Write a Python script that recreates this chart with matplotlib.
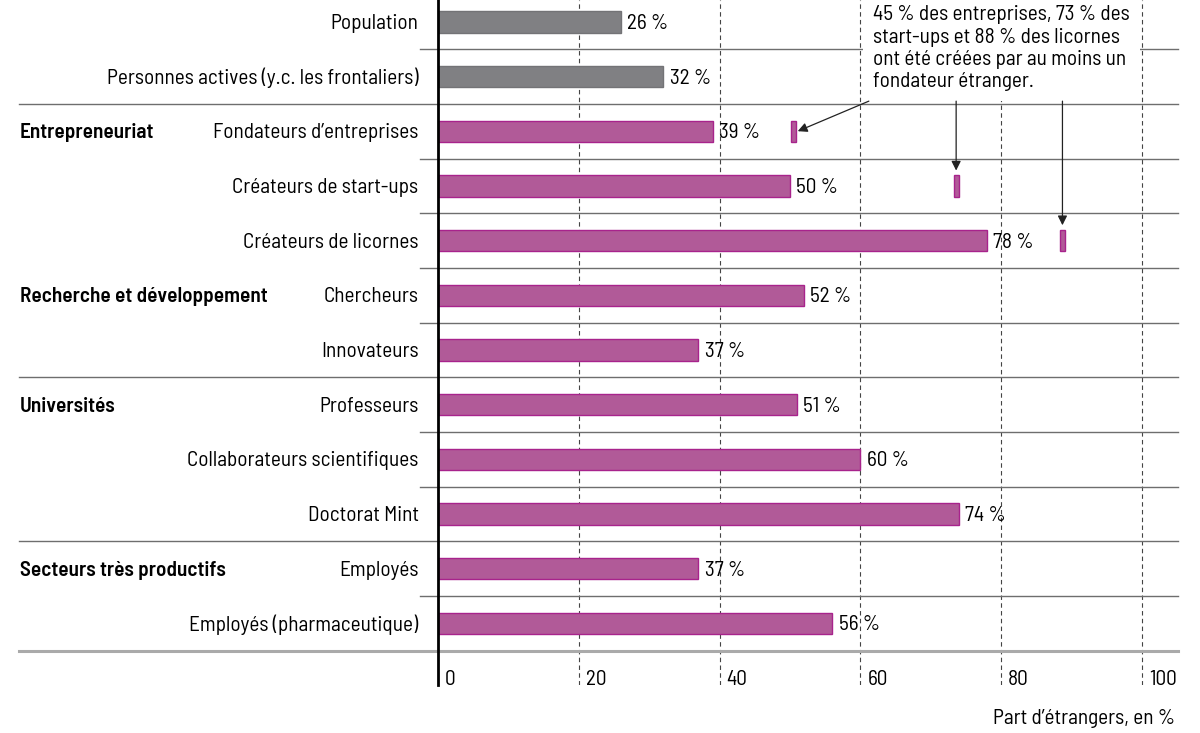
import matplotlib
matplotlib.use("Agg")
import matplotlib.pyplot as plt
from matplotlib.patches import Rectangle

# === DATA ===
categories = [
    "Population",
    "Personnes actives (y.c. les frontaliers)",
    "Fondateurs d’entreprises",
    "Créateurs de start-ups",
    "Créateurs de licornes",
    "Chercheurs",
    "Innovateurs",
    "Professeurs",
    "Collaborateurs scientifiques",
    "Doctorat Mint",
    "Employés",
    "Employés (pharmaceutique)",
]
values = [26, 32, 39, 50, 78, 52, 37, 51, 60, 74, 37, 56]
is_reference = [True, True] + [False] * 10

groups = ["Entrepreneuriat", "Recherche et développement", "Universités", "Secteurs très productifs"]
group_rows = [2, 5, 7, 10]

# share of firms with at least one foreign founder (small markers)
marker_rows = [2, 3, 4]
marker_pos = [50.5, 73.6, 88.7]

xticks = [0, 20, 40, 60, 80, 100]
TS = "\u2009"
note = (f"45{TS}% des entreprises, 73{TS}% des\n"
        f"start-ups et 88{TS}% des licornes\n"
        "ont été créées par au moins un\n"
        "fondateur étranger.")

# === STYLE ===
plt.rcParams['font.family'] = ['Barlow Semi Condensed', 'DejaVu Sans']
FS = 15.3
GREY = "#808083"
MAGENTA = "#b15a98"
MAGENTA_EDGE = "#a8238c"
SEP = "#6e6e6e"
DY = 0.03  # small nudge so text sits on the bar centre

fig = plt.figure(figsize=(12, 7.33), dpi=100)
# axes: x from 438px to 1178px, y from top to 685px
ax = fig.add_axes([438 / 1200, 48 / 733, 740 / 1200, 685 / 733])
px = 704 / 100  # pixels per unit
xmax = 740 / px
ax.set_xlim(0, xmax)
ax.set_ylim(12.13, -0.40)

for s in ["top", "right", "bottom"]:
    ax.spines[s].set_visible(False)
ax.spines["left"].set_linewidth(2)
ax.spines["left"].set_zorder(6)
ax.set_xticks([])
ax.set_yticks([])

# dashed grid
for t in xticks[1:]:
    ax.axvline(t, color="#444444", lw=0.8, ls=(0, (4, 3)), zorder=1)

# separators
x_full = (19 - 438) / px
x_short = (420 - 438) / px
group_bounds = [1.5, 6.5, 9.5]
for i in range(len(categories) - 1):
    yb = i + 0.5
    x0 = x_full if yb in group_bounds else x_short
    ax.plot([x0, xmax], [yb, yb], color=SEP, lw=1, clip_on=False, zorder=2)
ax.plot([x_full, xmax], [11.5, 11.5], color="#aaaaaa", lw=2.2, clip_on=False, zorder=2)

# bars
for i, (cat, v, ref) in enumerate(zip(categories, values, is_reference)):
    fc = GREY if ref else MAGENTA
    ec = "#737376" if ref else MAGENTA_EDGE
    ax.barh(i, v, height=0.39, color=fc, edgecolor=ec, lw=1, zorder=3)
    ax.text(v + 0.9, i + DY, f"{v}{TS}%", ha="left", va="center", fontsize=FS, zorder=4)
    ax.text(x_short - 0.2, i + DY, cat, ha="right", va="center", fontsize=FS, clip_on=False)

for g, r in zip(groups, group_rows):
    ax.text((20 - 438) / px, r + DY, g, ha="left", va="center", fontsize=FS,
            fontweight="semibold", clip_on=False)

# markers
for r, m in zip(marker_rows, marker_pos):
    ax.barh(r, 0.7, left=m - 0.35, height=0.39, color=MAGENTA, edgecolor=MAGENTA_EDGE,
            lw=1, zorder=3)

# white box behind note
ax.add_patch(Rectangle((60.3, -0.5), 39.4, 1.95, facecolor="white", edgecolor="none", zorder=4))
ax.text(61.8, -0.30, note, ha="left", va="top", fontsize=FS, linespacing=1.22, zorder=5)

arrow = dict(arrowstyle="-|>", color="#222222", lw=0.9, mutation_scale=14, shrinkA=0, shrinkB=0)
ax.annotate("", xy=(51.1, 2.0), xytext=(61.2, 1.45), arrowprops=arrow, zorder=5)
ax.annotate("", xy=(73.6, 2.72), xytext=(73.6, 1.45), arrowprops=arrow, zorder=5)
ax.annotate("", xy=(88.7, 3.72), xytext=(88.7, 1.45), arrowprops=arrow, zorder=5)

# tick labels
for t in xticks:
    ax.text(t + 1.0, 12.0 + DY, str(t), ha="left", va="center", fontsize=FS)

fig.text(1175 / 1200, 1 - 718 / 733, "Part d’étrangers, en %", ha="right", va="center",
         fontsize=FS)

fig.savefig("out.png", dpi=100)
